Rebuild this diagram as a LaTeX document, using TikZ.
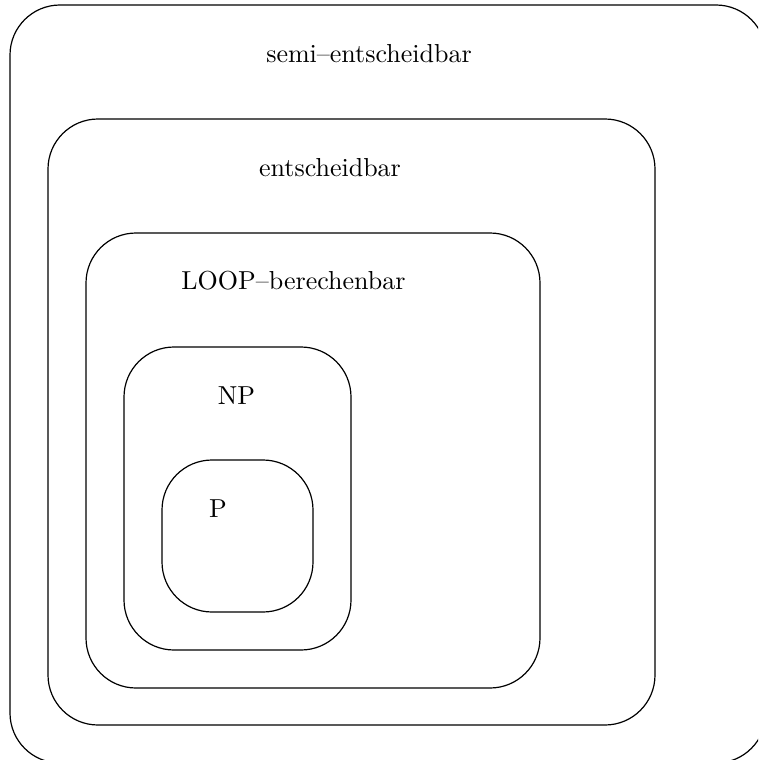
\documentclass[tikz,border=0pt]{standalone}
\begin{document}
\begin{tikzpicture}[x=1pt,y=-1pt,
  setbox/.style={draw=black,line width=1.2pt,rounded corners=50pt},
  lbl/.style={anchor=base,inner sep=0pt,scale=2.6,transform shape}]
\useasboundingbox (0,0) rectangle (758,760);
\begin{scope}
\clip (0,0) rectangle (758,760);
\draw[setbox] (10,5) rectangle (766,763);
\end{scope}
\coordinate (semiNW) at (10,5);
\draw[setbox] (48,119) rectangle (655,725);
\draw[setbox] (86,233) rectangle (540,688);
\draw[setbox] (124,347) rectangle (351,650);
\draw[setbox] (162,460) rectangle (313,612);
\node[lbl] (semi) at (369,63) {semi--entscheidbar};
\node[lbl] (ent) at (330,176) {entscheidbar};
\node[lbl] (loop) at (293.5,289) {LOOP--berechenbar};
\node[lbl] (np) at (236.5,404) {NP};
\node[lbl] (p) at (218,517) {P};
\end{tikzpicture}
\end{document}
